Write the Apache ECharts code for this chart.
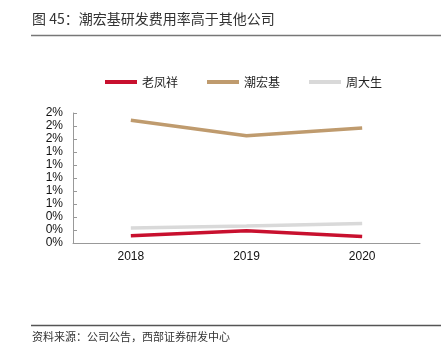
<!DOCTYPE html>
<html>
<head>
<meta charset="utf-8">
<script src="https://cdn.jsdelivr.net/npm/echarts@6/dist/echarts.min.js"></script>
<style>
html, body { margin: 0; padding: 0; background: #fff; }
#chart { width: 441px; height: 353px; }
</style>
</head>
<body>
<div id="chart"></div>
<script>
// 数据 (%)
var years = ['2018', '2019', '2020'];
var laofengxiang = [0.11, 0.19, 0.10];
var chaohongji = [1.89, 1.65, 1.77];
var zhoudasheng = [0.23, 0.26, 0.30];
var seriesNames = ['老凤祥', '潮宏基', '周大生'];

var chart = echarts.init(document.getElementById('chart'));
var font = '"Noto Sans CJK SC", "Liberation Sans", sans-serif';

var option = {
    animation: false,
    backgroundColor: '#fff',
    textStyle: { fontFamily: font },
    graphic: [
        {
            type: 'text', left: 32, top: 12,
            style: { text: '图 45：潮宏基研发费用率高于其他公司', fontSize: 14, fill: '#333', fontFamily: font, letterSpacing: 0.5 }
        },
        {
            type: 'line', shape: { x1: 31, y1: 35.5, x2: 441, y2: 35.5 },
            style: { stroke: '#777', lineWidth: 1.5 }
        },
        {
            type: 'line', shape: { x1: 31, y1: 325.5, x2: 441, y2: 325.5 },
            style: { stroke: '#555', lineWidth: 1.5 }
        },
        {
            type: 'text', left: 32, top: 331,
            style: { text: '资料来源：公司公告，西部证券研发中心', fontSize: 11, fill: '#333', fontFamily: font, letterSpacing: 0.3 }
        }
    ],
    legend: {
        left: 105,
        top: 76,
        padding: 0,
        icon: 'rect',
        itemWidth: 32,
        itemHeight: 4,
        itemGap: 29,
        textStyle: { fontSize: 12, color: '#222', fontFamily: font },
        data: seriesNames
    },
    grid: { left: 73, right: 21, top: 113, bottom: 110, containLabel: false },
    xAxis: {
        type: 'category',
        data: years,
        axisLine: { lineStyle: { color: '#999' } },
        axisTick: { inside: true, length: 4, lineStyle: { color: '#999' } },
        axisLabel: { color: '#111', fontSize: 12, margin: 8, fontFamily: '"Liberation Sans", sans-serif' }
    },
    yAxis: {
        type: 'value',
        min: 0,
        max: 2,
        interval: 0.2,
        splitLine: { show: false },
        axisLine: { show: true, lineStyle: { color: '#999' } },
        axisTick: { show: true, inside: true, length: 4, lineStyle: { color: '#999' } },
        axisLabel: {
            color: '#111', fontSize: 12, margin: 10, fontFamily: '"Liberation Sans", sans-serif',
            formatter: function (v) { return Math.round(v) + '%'; }
        }
    },
    series: [
        {
            name: seriesNames[0], type: 'line', data: laofengxiang,
            symbol: 'none', lineStyle: { width: 3.5, color: '#C8102E' }, itemStyle: { color: '#C8102E' }
        },
        {
            name: seriesNames[1], type: 'line', data: chaohongji,
            symbol: 'none', lineStyle: { width: 3.5, color: '#BF9B6E' }, itemStyle: { color: '#BF9B6E' }
        },
        {
            name: seriesNames[2], type: 'line', data: zhoudasheng,
            symbol: 'none', lineStyle: { width: 3.5, color: '#D9D9D9' }, itemStyle: { color: '#D9D9D9' }
        }
    ]
};

chart.setOption(option);
</script>
</body>
</html>
